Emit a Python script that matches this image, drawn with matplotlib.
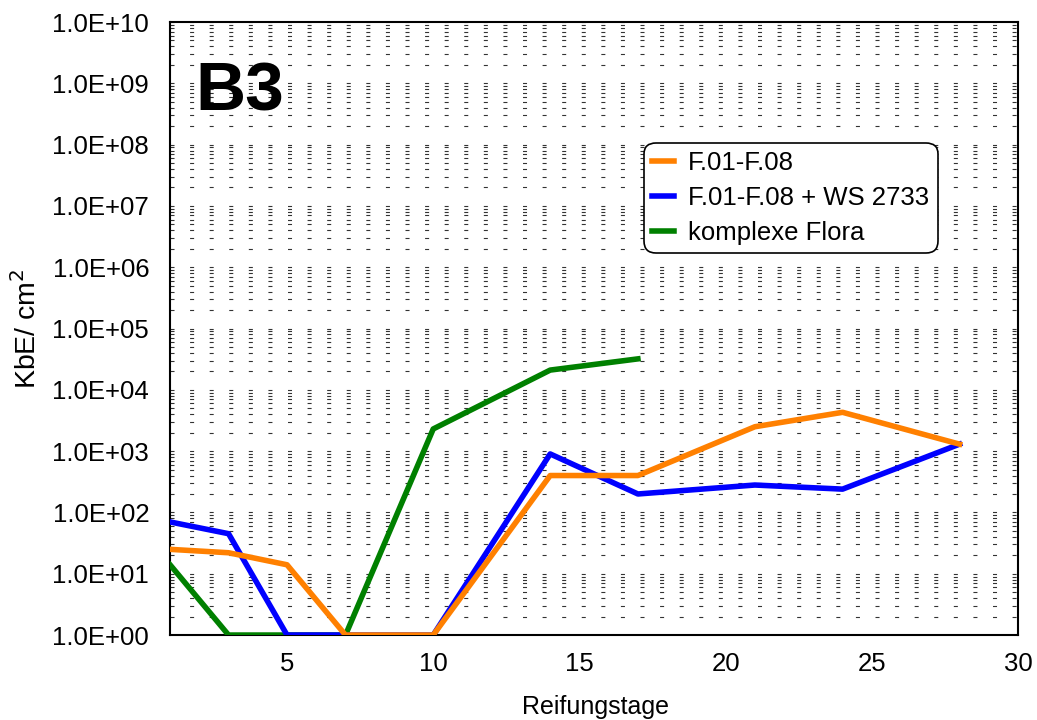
import matplotlib
matplotlib.use("Agg")
import matplotlib.pyplot as plt
from matplotlib.ticker import FixedLocator, LogLocator, NullFormatter

plt.rcParams['font.family'] = ['Liberation Sans', 'DejaVu Sans']
plt.rcParams['lines.scale_dashes'] = False

# Reifungstage und KbE/cm2 je Ansatz
tage_f08 = [1, 3, 5, 7, 10, 14, 17, 21, 24, 28]
kbe_f08 = [25, 22, 14, 1, 1, 400, 400, 2500, 4300, 1300]

tage_ws = [1, 3, 5, 7, 10, 14, 17, 21, 24, 28]
kbe_ws = [70, 45, 1, 1, 1, 900, 200, 280, 240, 1300]

tage_flora = [1, 3, 5, 7, 10, 14, 17]
kbe_flora = [14, 1, 1, 1, 2300, 21000, 32000]

x_ticks = [5, 10, 15, 20, 25, 30]

fig = plt.figure(figsize=(10.37, 7.2), dpi=100)
ax = fig.add_axes([0.164, 0.118, 0.8177, 0.8514])

ax.plot(tage_flora, kbe_flora, color='#008000', lw=4, label='komplexe Flora', zorder=3)
ax.plot(tage_ws, kbe_ws, color='#0000ff', lw=4, label='F.01-F.08 + WS 2733', zorder=4)
ax.plot(tage_f08, kbe_f08, color='#ff8000', lw=4, label='F.01-F.08', zorder=5)

ax.set_yscale('log')
ax.set_xlim(1, 30)
ax.set_ylim(1, 1e10)
ax.xaxis.set_major_locator(FixedLocator(x_ticks))
ax.yaxis.set_minor_locator(LogLocator(base=10, subs=range(2, 10), numticks=20))
ax.yaxis.set_minor_formatter(NullFormatter())
ax.set_yticks([10.0 ** k for k in range(11)])
ax.set_yticklabels(['1.0E+%02d' % k for k in range(11)])

ax.tick_params(axis='both', which='both', length=0, labelsize=18.5)
ax.tick_params(axis='y', pad=15)
ax.tick_params(axis='x', pad=12)

# gestrichelte Hilfslinien wie im Original
ax.grid(True, axis='y', which='both', color='#333333', lw=0.8,
        linestyle=(0, (2.9, 11.2)))
ax.grid(False, axis='x')

for s in ax.spines.values():
    s.set_linewidth(1.5)
    s.set_color('black')

ax.set_xlabel('Reifungstage', fontsize=18)
ax.xaxis.set_label_coords(0.502, -0.098)
ax.xaxis.label.set_va('top')
ax.set_ylabel('KbE/ cm$^2$', fontsize=20.5)
ax.yaxis.set_label_coords(-0.151, 0.5)

ax.text(0.03, 0.856, 'B3', transform=ax.transAxes, fontsize=50,
        fontweight='bold', ha='left', va='baseline', zorder=6)

handles, labels = ax.get_legend_handles_labels()
order = [2, 1, 0]
leg = ax.legend([handles[i] for i in order], [labels[i] for i in order],
                loc='upper left', bbox_to_anchor=(0.559, 0.803),
                fontsize=18.5, frameon=True, fancybox=True, framealpha=1,
                edgecolor='black', handlelength=0.85, handletextpad=0.55,
                labelspacing=0.42, borderpad=0.32, borderaxespad=0)
leg.get_frame().set_linewidth(1.2)
leg.get_frame().set_boxstyle('round,pad=0,rounding_size=0.45')
leg.set_zorder(7)

plt.savefig('out.png', dpi=100)
